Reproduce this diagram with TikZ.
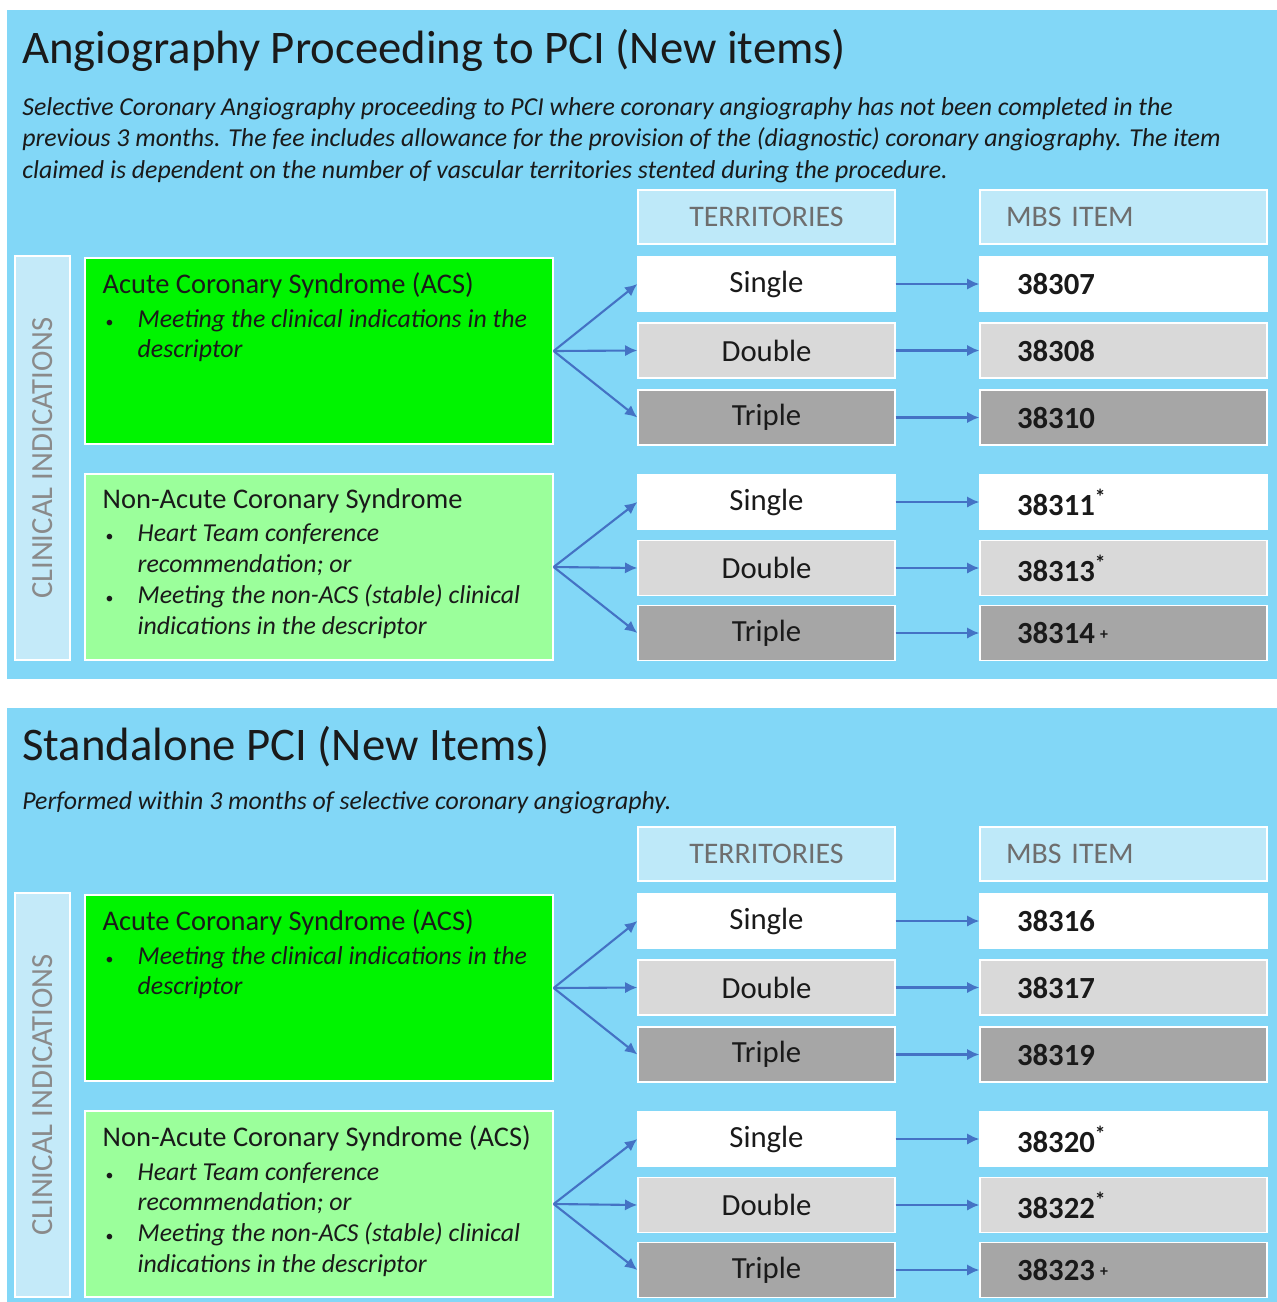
\documentclass[tikz,border=0pt]{standalone}
\usepackage{fontspec}
\setmainfont{Carlito}
\usetikzlibrary{arrows.meta,positioning}
\usepackage{xcolor}

\definecolor{panelblue}{HTML}{82D7F7}
\definecolor{headblue}{HTML}{BEE9F9}
\definecolor{clinblue}{HTML}{C4EAF9}
\definecolor{acsgreen}{HTML}{00F400}
\definecolor{nacsgreen}{HTML}{9BFF9B}
\definecolor{lgray}{HTML}{D9D9D9}
\definecolor{mgray}{HTML}{A6A6A6}
\definecolor{arrowblue}{HTML}{4472C4}
\definecolor{hdrgray}{HTML}{6E6E6E}
\definecolor{clingray}{HTML}{8A8A8A}
\definecolor{ink}{HTML}{1A1A1A}

\newcommand{\bul}{\makebox[0.7cm][l]{\hspace{0.06cm}\small\textbullet}}
\newcommand{\ind}{\hspace*{0.7cm}}

\begin{document}
\begin{tikzpicture}[x=0.02cm,y=-0.02cm,
    hdr/.style={draw=white,line width=0.8pt,fill=headblue,minimum height=1.08cm,
      text=hdrgray,font=\fontsize{17}{20}\selectfont,inner sep=0pt},
    terr/.style={draw=white,line width=0.8pt,minimum width=5.14cm,minimum height=1.1cm,
      text=ink,font=\fontsize{17.5}{20}\selectfont,inner sep=0pt},
    item/.style={draw=white,line width=0.8pt,minimum height=1.1cm,text width=4.26cm,
      inner xsep=0.74cm,inner ysep=0pt,align=left,text=ink,
      font=\bfseries\fontsize{17.5}{20}\selectfont},
    indic/.style={draw=white,line width=0.8pt,minimum width=9.36cm,minimum height=3.72cm},
    indtext/.style={inner sep=0pt,align=left,text=ink,font=\fontsize{14.7}{17.6}\selectfont},
    clin/.style={draw=white,line width=0.8pt,fill=clinblue,rotate=90,minimum width=8.08cm,
      minimum height=1.1cm,inner sep=0pt,text=clingray,font=\fontsize{17.5}{20}\selectfont},
    ptitle/.style={anchor=west,inner sep=0pt,text=ink,font=\fontsize{26.6}{30}\selectfont},
    pdesc/.style={anchor=west,inner sep=0pt,align=left,text=ink,
      font=\itshape\fontsize{14.7}{17.9}\selectfont},
    arr/.style={draw=arrowblue,line width=1.2pt,-{Latex[length=7pt,width=6.5pt]}}]

  \useasboundingbox (0,0) rectangle (1277,1302);
  \fill[white] (0,0) rectangle (1277,1302);

  % the two panels
  \fill[panelblue] (7,10) rectangle (1277,679);
  \fill[panelblue] (7,708) rectangle (1277,1302);

  \node[ptitle] (titleA) at (22,50) {Angiography Proceeding to PCI (New items)};
  \node[pdesc] (descA) at (22,140) {Selective Coronary Angiography proceeding to PCI where coronary angiography has not been completed in the\\
    previous 3 months. The fee includes allowance for the provision of the (diagnostic) coronary angiography. The item\\
    claimed is dependent on the number of vascular territories stented during the procedure.};

  \node[ptitle] (titleB) at (22,747) {Standalone PCI (New Items)};
  \node[pdesc] (descB) at (22,803) {Performed within 3 months of selective coronary angiography.};

  % boxes shared by both panels
  \foreach \p/\oy in {A/0,B/637} {
    \node[hdr,minimum width=5.14cm] (terhd\p) at (766.5,{217+\oy}) {TERRITORIES};
    \node[hdr,text width=4.70cm,inner xsep=0.52cm,align=left] (mbshd\p) at (1123.5,{217+\oy}) {MBS ITEM};
    \node[clin] (clin\p) at (42.5,{458+\oy}) {CLINICAL INDICATIONS};
    \node[indic,fill=acsgreen] (acs\p) at (319,{351+\oy}) {};
    \node[indic,fill=nacsgreen] (nacs\p) at (319,{567+\oy}) {};
    \foreach \r/\ry/\lab/\shade in {1/284/Single/white,2/350.5/Double/lgray,3/417.5/Triple/mgray,
                                    4/502/Single/white,5/568/Double/lgray,6/633/Triple/mgray} {
      \node[terr,fill=\shade] (ter\p\r) at (766.5,{\ry+\oy}) {\lab};
    }
  }

  % MBS item numbers
  \foreach \r/\ry/\shade/\num in {1/284/white/38307,2/350.5/lgray/38308,3/417.5/mgray/38310,
      4/502/white/{38311\textsuperscript{*}},5/568/lgray/{38313\textsuperscript{*}},
      6/633/mgray/{38314\,\raisebox{0.3ex}{\fontsize{9}{9}\selectfont +}}} {
    \node[item,fill=\shade] (item A\r) at (1123.5,\ry) {\num};
  }
  \foreach \r/\ry/\shade/\num in {1/284/white/38316,2/350.5/lgray/38317,3/417.5/mgray/38319,
      4/502/white/{38320\textsuperscript{*}},5/568/lgray/{38322\textsuperscript{*}},
      6/633/mgray/{38323\,\raisebox{0.3ex}{\fontsize{9}{9}\selectfont +}}} {
    \node[item,fill=\shade] (item B\r) at (1123.5,{\ry+637}) {\num};
  }

  % indication texts
  \node[indtext,below right=0.3cm and 0.36cm of acsA.north west] (acsAtxt)
    {{\fontsize{16.2}{19}\selectfont Acute Coronary Syndrome (ACS)}\\[1.5pt]
     \bul\textit{Meeting the clinical indications in the}\\
     \ind\textit{descriptor}};
  \node[indtext,below right=0.3cm and 0.36cm of nacsA.north west] (nacsAtxt)
    {{\fontsize{16.2}{19}\selectfont Non-Acute Coronary Syndrome}\\[1.5pt]
     \bul\textit{Heart Team conference}\\
     \ind\textit{recommendation; or}\\
     \bul\textit{Meeting the non-ACS (stable) clinical}\\
     \ind\textit{indications in the descriptor}};
  \node[indtext,below right=0.3cm and 0.36cm of acsB.north west] (acsBtxt)
    {{\fontsize{16.2}{19}\selectfont Acute Coronary Syndrome (ACS)}\\[1.5pt]
     \bul\textit{Meeting the clinical indications in the}\\
     \ind\textit{descriptor}};
  \node[indtext,below right=0.3cm and 0.36cm of nacsB.north west] (nacsBtxt)
    {{\fontsize{16.2}{19}\selectfont Non-Acute Coronary Syndrome (ACS)}\\[1.5pt]
     \bul\textit{Heart Team conference}\\
     \ind\textit{recommendation; or}\\
     \bul\textit{Meeting the non-ACS (stable) clinical}\\
     \ind\textit{indications in the descriptor}};

  % connectors
  \foreach \p in {A,B} {
    \foreach \r in {1,2,3} {
      \draw[arr] (acs\p.east) -- (ter\p\r.west);
    }
    \foreach \r in {4,5,6} {
      \draw[arr] (nacs\p.east) -- (ter\p\r.west);
    }
    \foreach \r in {1,...,6} {
      \draw[arr] (ter\p\r.east) -- (item \p\r.west);
    }
  }
\end{tikzpicture}
\end{document}
